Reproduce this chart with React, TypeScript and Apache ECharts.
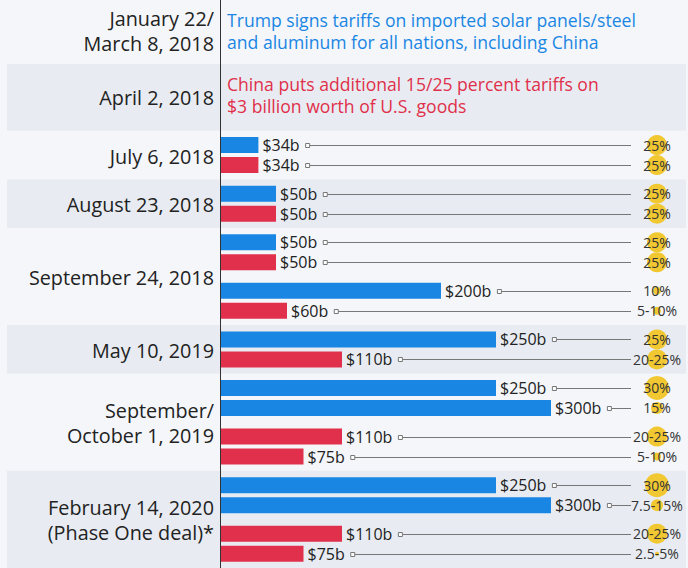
import React, { useEffect, useRef } from "react";
import * as echarts from "echarts";

// ---- data ----
const pairIds = ["jul18", "aug18", "sep18a", "sep18b", "may19", "sepoct19a", "sepoct19b", "feb20a", "feb20b"];
const firstValues = [34, 50, 50, 200, 250, 250, 110, 250, 110];
const firstCountries = ["US", "US", "US", "US", "US", "US", "CN", "US", "CN"];
const firstRates = ["25%", "25%", "25%", "10%", "25%", "30%", "20-25%", "30%", "20-25%"];
const secondValues = [34, 50, 50, 60, 110, 300, 75, 300, 75];
const secondCountries = ["CN", "CN", "CN", "CN", "CN", "US", "CN", "US", "CN"];
const secondRates = ["25%", "25%", "25%", "5-10%", "20-25%", "15%", "5-10%", "7.5-15%", "2.5-5%"];

const groupLabels = [
  "July 6, 2018",
  "August 23, 2018",
  "September 24, 2018",
  "May 10, 2019",
  "September/\nOctober 1, 2019",
  "February 14, 2020\n(Phase One deal)*",
];
const groupStart = [0, 1, 2, 4, 5, 7];
const groupEnd = [0, 1, 3, 4, 6, 8];

const introDates = ["January 22/\nMarch 8, 2018", "April 2, 2018"];
const introTexts = [
  "Trump signs tariffs on imported solar panels/steel\nand aluminum for all nations, including China",
  "China puts additional 15/25 percent tariffs on\n$3 billion worth of U.S. goods",
];
const introCountries = ["US", "CN"];

// ---- styles ----
const FONT = '"Open Sans", "Noto Sans", sans-serif';
const COLORS: Record<string, string> = { US: "#1a86e4", CN: "#e0304b" };
const BG = "#f4f6f9";
const BAND = "#e8ecf2";
const DATE_FONT_SIZE = 19.8;
const DATE_LINE_HEIGHT = 25;
const INTRO_FONT_SIZE = 17.6;
const INTRO_LINE_HEIGHT = 22;
const VALUE_FONT_SIZE = 16;
const LABEL_DIST = 4;
const LINE_END = 631;
const BUBBLE_X = 657;

let measureCtx: CanvasRenderingContext2D | null = null;
function textWidth(t: string, size: number) {
  if (!measureCtx) measureCtx = document.createElement("canvas").getContext("2d");
  if (!measureCtx) return t.length * size * 0.55;
  measureCtx.font = `${size}px "Open Sans"`;
  return measureCtx.measureText(t).width;
}

function rateMax(label: string) {
  const nums = label.replace("%", "").split("-").map((s) => parseFloat(s));
  return Math.max(...nums);
}

export default function App() {
  const ref = useRef<HTMLDivElement>(null);

  useEffect(() => {
    if (!ref.current) return;
    const chart = echarts.init(ref.current, undefined, { renderer: "svg" });

    const fmt = (p: any) => `$${p.value}b`;
    const barLabel = {
      show: true,
      position: "right",
      distance: LABEL_DIST,
      formatter: fmt,
      fontSize: VALUE_FONT_SIZE,
      fontFamily: FONT,
      color: "#222",
    };

    const connectorData = [
      ...firstValues.map((v, i) => [v, i, 0]),
      ...secondValues.map((v, i) => [v, i, 1]),
    ];
    const rateLabels = [...firstRates, ...secondRates];
    const rateData = [
      ...firstRates.map((_, i) => [0, i, 0]),
      ...secondRates.map((_, i) => [0, i, 1]),
    ];
    const groupData = groupStart.map((s, i) => [0, s, groupEnd[i]]);

    chart.setOption({
      animation: false,
      backgroundColor: BG,
      grid: { left: 221, top: 130.8, width: 440, height: 441 },
      xAxis: { type: "value", min: 0, max: 400, show: false },
      yAxis: {
        type: "category",
        data: pairIds,
        inverse: true,
        axisLine: { show: false },
        axisTick: { show: false },
        axisLabel: { show: false },
      },
      graphic: [
        { type: "rect", z: 0, shape: { x: 7, y: 64, width: 679, height: 66.8 }, style: { fill: BAND } },
        ...introDates.map((t, i) => ({
          type: "text",
          z: 5,
          x: 214,
          y: i === 0 ? 31 : 97,
          style: {
            text: t,
            align: "right",
            verticalAlign: "middle",
            fontSize: DATE_FONT_SIZE,
            lineHeight: DATE_LINE_HEIGHT,
            fontFamily: FONT,
            fill: "#222",
          },
        })),
        ...introTexts.map((t, i) => ({
          type: "text",
          z: 5,
          x: 227,
          y: i === 0 ? 31 : 95,
          style: {
            text: t,
            align: "left",
            verticalAlign: "middle",
            fontSize: INTRO_FONT_SIZE,
            lineHeight: INTRO_LINE_HEIGHT,
            fontFamily: FONT,
            fill: COLORS[introCountries[i]],
          },
        })),
        { type: "line", z: 100, shape: { x1: 220.5, y1: 0, x2: 220.5, y2: 568 }, style: { stroke: "#333", lineWidth: 1 } },
      ],
      series: [
        {
          type: "custom",
          name: "groups",
          z: 1,
          clip: false,
          silent: true,
          encode: { x: 0, y: 1 },
          data: groupData,
          renderItem: (params: any, api: any) => {
            const s = api.value(1);
            const e = api.value(2);
            const h = api.size([0, 1])[1];
            const yTop = api.coord([0, s])[1] - h / 2;
            const yBot = api.coord([0, e])[1] + h / 2;
            const children: any[] = [];
            if (params.dataIndex % 2 === 1) {
              children.push({
                type: "rect",
                shape: { x: 7, y: yTop, width: 679, height: yBot - yTop },
                style: { fill: BAND },
              });
            }
            children.push({
              type: "text",
              x: 214,
              y: (yTop + yBot) / 2 + 1,
              style: {
                text: groupLabels[params.dataIndex],
                align: "right",
                verticalAlign: "middle",
                fontSize: DATE_FONT_SIZE,
                lineHeight: DATE_LINE_HEIGHT,
                fontFamily: FONT,
                fill: "#222",
              },
            });
            return { type: "group", children };
          },
        },
        {
          type: "custom",
          name: "connectors",
          z: 2,
          clip: false,
          silent: true,
          encode: { x: 0, y: 1 },
          data: connectorData,
          renderItem: (params: any, api: any) => {
            const v = api.value(0);
            const idx = api.value(1);
            const slot = api.value(2);
            const c = api.coord([v, idx]);
            const y = Math.round(c[1] + (slot === 0 ? -10 : 10)) + 0.5;
            const x0 = c[0] + LABEL_DIST + textWidth(`$${v}b`, VALUE_FONT_SIZE) + 6;
            return {
              type: "group",
              children: [
                { type: "line", shape: { x1: x0 + 4, y1: y, x2: LINE_END, y2: y }, style: { stroke: "#777", lineWidth: 1 } },
                { type: "rect", shape: { x: x0, y: y - 2, width: 4, height: 4 }, style: { fill: "#fff", stroke: "#777", lineWidth: 1 } },
              ],
            };
          },
        },
        {
          type: "bar",
          name: "first",
          z: 3,
          barWidth: 16,
          barGap: "25%",
          data: firstValues.map((v, i) => ({ value: v, itemStyle: { color: COLORS[firstCountries[i]] } })),
          label: barLabel,
        },
        {
          type: "bar",
          name: "second",
          z: 3,
          barWidth: 16,
          barGap: "25%",
          data: secondValues.map((v, i) => ({ value: v, itemStyle: { color: COLORS[secondCountries[i]] } })),
          label: barLabel,
        },
        {
          type: "custom",
          name: "rates",
          z: 4,
          clip: false,
          silent: true,
          encode: { x: 0, y: 1 },
          data: rateData,
          renderItem: (params: any, api: any) => {
            const idx = api.value(1);
            const slot = api.value(2);
            const c = api.coord([0, idx]);
            const y = c[1] + (slot === 0 ? -10 : 10);
            const label = rateLabels[params.dataIndex];
            const r = (rateMax(label) * 0.8) / 2;
            return {
              type: "group",
              children: [
                { type: "circle", shape: { cx: BUBBLE_X, cy: y, r }, style: { fill: "#f1c832" } },
                {
                  type: "text",
                  x: BUBBLE_X,
                  y: y,
                  style: {
                    text: label,
                    align: "center",
                    verticalAlign: "middle",
                    fontSize: 14,
                    fontFamily: FONT,
                    fill: "#333",
                  },
                },
              ],
            };
          },
        },
      ],
    });

    return () => chart.dispose();
  }, []);

  return <div ref={ref} style={{ position: "absolute", left: 0, top: 0, width: 688, height: 568 }} />;
}
